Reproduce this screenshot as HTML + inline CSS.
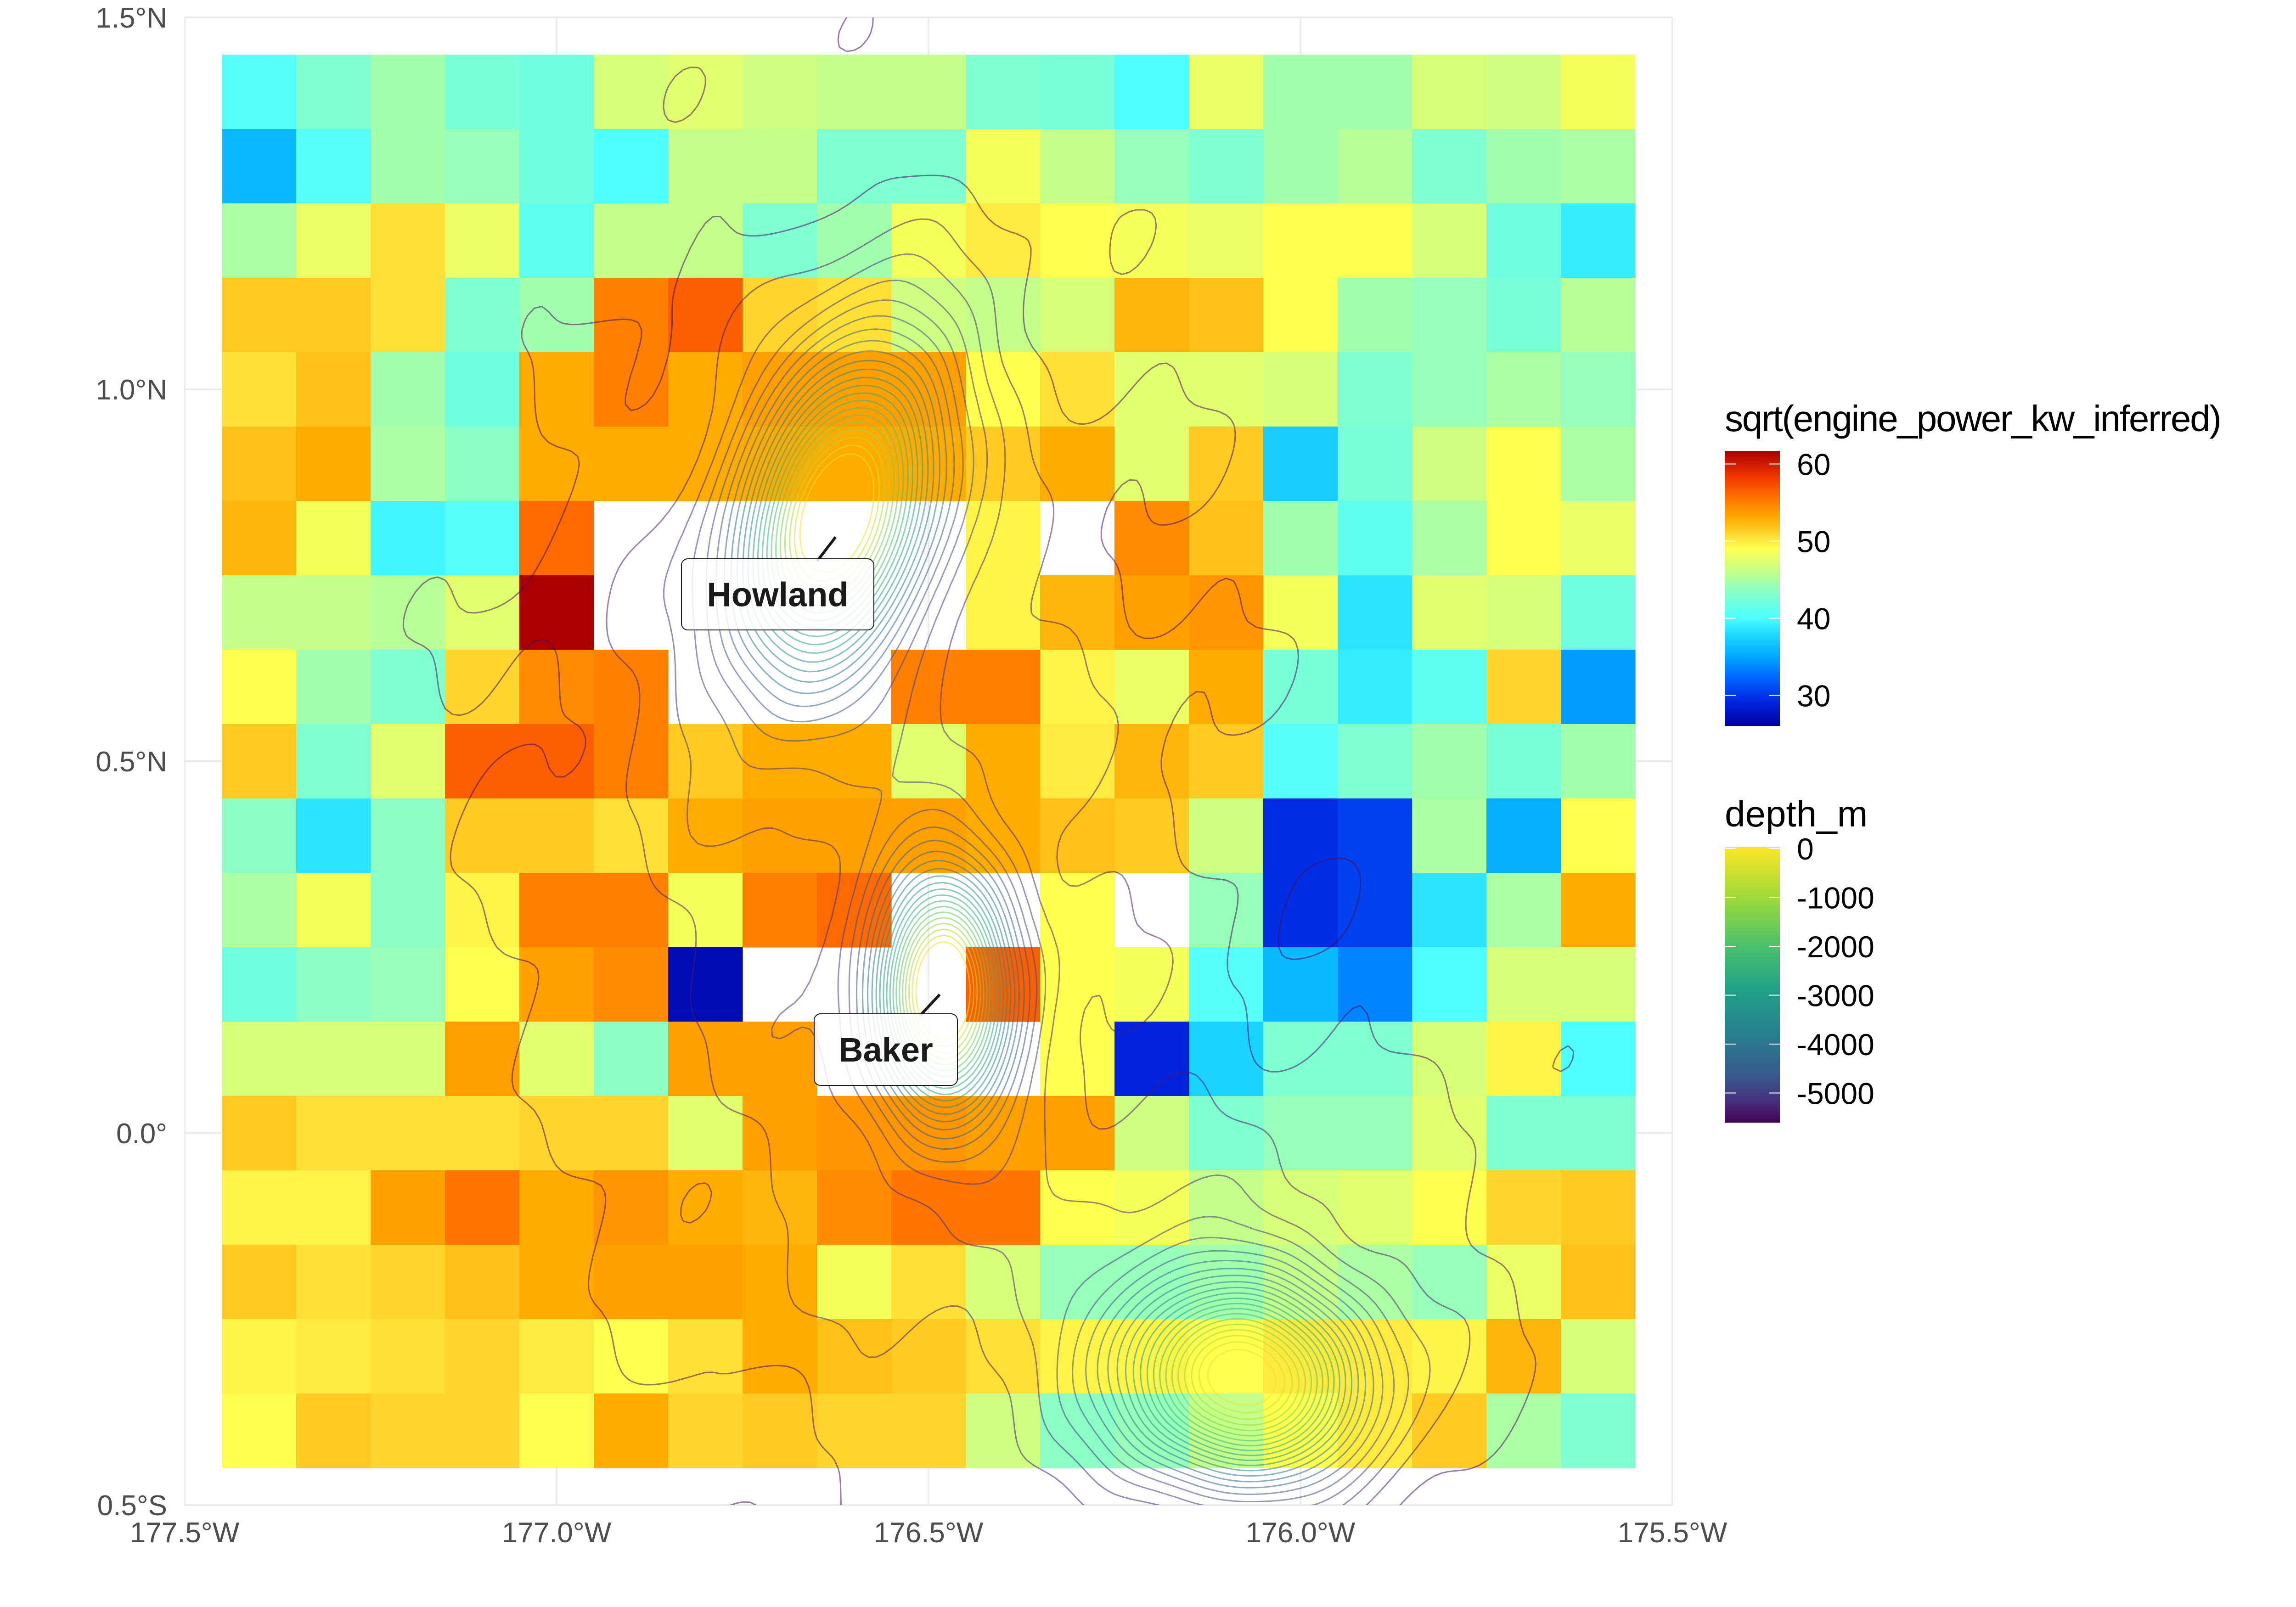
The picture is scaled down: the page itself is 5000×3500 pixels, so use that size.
<!DOCTYPE html>
<html><head><meta charset="utf-8"><style>
html,body{margin:0;padding:0;background:#fff;}
svg{display:block;font-family:"Liberation Sans",Arial,sans-serif;}
</style></head><body>
<svg id="chart" width="5000" height="3500" viewBox="0 0 5000 3500" xmlns="http://www.w3.org/2000/svg">
<defs>
<clipPath id="panelClip"><rect x="402" y="38" width="3240" height="3240"/></clipPath>
<linearGradient id="powerGrad" x1="0" y1="0" x2="0" y2="1"></linearGradient>
<linearGradient id="depthGrad" x1="0" y1="0" x2="0" y2="1">
<stop offset="0" stop-color="#fde725"/><stop offset="0.18" stop-color="#a0da39"/><stop offset="0.36" stop-color="#4ac16d"/><stop offset="0.52" stop-color="#1fa187"/><stop offset="0.68" stop-color="#277f8e"/><stop offset="0.82" stop-color="#365c8d"/><stop offset="0.92" stop-color="#46327e"/><stop offset="1" stop-color="#440154"/>
</linearGradient>
</defs>
<g id="grid"></g>
<g id="cells"></g>
<g id="contours" clip-path="url(#panelClip)"></g>
<g id="labels"></g>
<g id="axes"></g>
<g id="legend"></g>
</svg>
<script>
const lons = [-177.4,-177.3,-177.2,-177.1,-177.0,-176.9,-176.8,-176.7,-176.6,-176.5,-176.4,-176.3,-176.2,-176.1,-176.0,-175.9,-175.8,-175.7,-175.6];
const lats = [1.4,1.3,1.2,1.1,1.0,0.9,0.8,0.7,0.6,0.5,0.4,0.3,0.2,0.1,0.0,-0.1,-0.2,-0.3,-0.4];
const N = null;
const powerRows = [
[40.5,43,44.5,42.5,42,47,47.5,46.5,46,46,43,42.5,40,48,44.5,44.5,47,46.5,48.5],
[36,40.5,44.5,44,42,40,46,46,43,43,48.5,46,44,43,44.5,45.5,43,44.5,45],
[45,48,50.5,48,41,46,46,43,44.5,48.5,50,49,48.5,48,49,49,47,42,39],
[51.5,51.5,50.5,43,44.5,55,56.5,51,50.5,46.5,46,47,52.5,52,49,44.5,44,42.5,45.5],
[50.5,52,44.5,42,53,55,53,53.5,53.5,53.5,49,50.5,47.5,47.5,47,43,44,45,44],
[52,53,45,43.5,53,53,53,53,53,53,51.5,53,47.5,51.5,37,42.5,46.5,49,45],
[52.5,48.5,39.5,40.5,56,N,N,N,N,N,49.5,N,54.5,52,44.5,41,45,49,48],
[46,46,45.5,47.5,62,N,N,N,N,N,49.5,52.5,53.5,54,48.5,38.5,47.5,47,42],
[49,44.5,43,51,54.5,55,N,N,N,55,55,49.5,48,53,42.5,39,41,51,34.5],
[51.5,43,47.5,56.5,56.5,55,51.5,53,53,47.5,53,50,52.5,51.5,40.5,43,44.5,42.5,44.5],
[43.5,38.5,43.5,51.5,51.5,50.5,53,53.5,53.5,53.5,53,52,51.5,46.5,29.5,30.5,45,35.5,49],
[45,48.5,43.5,49.5,55,55,48.5,55,56,N,N,49,N,44,29.5,30.5,38.5,45,53],
[42,43.5,44,49,53.5,54.5,27,N,N,N,56.5,49,48.5,40.5,36,33.5,40,47,47],
[47,47,47,53.5,47.5,43.5,53.5,53.5,N,N,N,49,29,37.5,43,43,47,49.5,40],
[51.5,50.5,50.5,50.5,51,51,47.5,53.5,54,54,53.5,53.5,46.5,43,44,44,47.5,43,43],
[49.5,49.5,53.5,55.5,53,54,53,52.5,54.5,55.5,55.5,49,48.5,46,47,47.5,49,51,51.5],
[51.5,50.5,51,52,53,53.5,53.5,53,48.5,50.5,47,44,44,44.5,46,45,44,48,52],
[49.5,50,50.5,51,50,49,50.5,53,52,51.5,50.5,49.5,49.5,49,50,50,49.5,52.5,47],
[49,51.5,51,51,49,53,51,51.5,51,51,46.5,43.5,44,46,49,50,51.5,45,43]
];
const xTicks = [-177.5,-177.0,-176.5,-176.0,-175.5];
const xTickLabels = ["177.5°W","177.0°W","176.5°W","176.0°W","175.5°W"];
const yTicks = [1.5,1.0,0.5,0.0,-0.5];
const yTickLabels = ["1.5°N","1.0°N","0.5°N","0.0°","0.5°S"];
const powerLegendTicks = [60,50,40,30];
const depthLegendTicks = [0,-1000,-2000,-3000,-4000,-5000];
const islandNames = ["Howland","Baker"];
const islandLon = [-176.62,-176.48];
const islandLat = [0.81,0.195];

const NS="http://www.w3.org/2000/svg";
function mk(tag,attrs,parent){const e=document.createElementNS(NS,tag);for(const k in attrs)e.setAttribute(k,attrs[k]);parent.appendChild(e);return e;}
const xScale = lon => 402 + (lon + 177.5) * 1620;
const yScale = lat => 38 + (1.5 - lat) * 1620;

const stops = [[26,"#0000a0"],[29,"#0022dd"],[32,"#0060ff"],[35,"#00a8ff"],[38,"#20dcff"],[40,"#4dffff"],[43,"#80ffd0"],[46,"#c4ff8c"],[49,"#ffff50"],[51,"#ffd52e"],[53,"#ffab00"],[56,"#ff6a00"],[58.5,"#ee3300"],[61.7,"#aa0000"]];
function hex(c){return [parseInt(c.slice(1,3),16),parseInt(c.slice(3,5),16),parseInt(c.slice(5,7),16)];}
function colorFor(v){
  if(v<=stops[0][0])return stops[0][1];
  for(let i=1;i<stops.length;i++){if(v<=stops[i][0]){const a=hex(stops[i-1][1]),b=hex(stops[i][1]);const t=(v-stops[i-1][0])/(stops[i][0]-stops[i-1][0]);return "rgb("+a.map((x,j)=>Math.round(x+(b[j]-x)*t)).join(",")+")";}}
  return stops[stops.length-1][1];
}
const pg=document.getElementById('powerGrad');
for(let i=stops.length-1;i>=0;i--){const s=stops[i];mk('stop',{offset:((61.7-s[0])/(61.7-26)).toFixed(4),'stop-color':s[1]},pg);}

const grid=document.getElementById('grid');
xTicks.forEach(t=>{const l=mk('line',{x1:xScale(t),x2:xScale(t),y1:38,y2:3278,stroke:'#ebebeb','stroke-width':4},grid);

});
yTicks.forEach(t=>{const l=mk('line',{x1:402,x2:3642,y1:yScale(t),y2:yScale(t),stroke:'#ebebeb','stroke-width':4},grid);

});

const cells=document.getElementById('cells');
lats.forEach((lat,r)=>lons.forEach((lon,c)=>{
  const v=powerRows[r][c]; if(v===null)return;
  const x0=xScale(lon-0.05),x1=xScale(lon+0.05),y0=yScale(lat+0.05),y1=yScale(lat-0.05);
  const rc=mk('rect',{x:x0,y:y0,width:x1-x0+0.6,height:y1-y0+0.6,fill:colorFor(v)},cells);
  
  
}));

function depth(lon,lat){
  let d=-5600;
  const g=(x0,y0,sx,sy,h,rot)=>{let dx=lon-x0,dy=lat-y0;if(rot){const c=Math.cos(rot),s=Math.sin(rot);const nx=dx*c-dy*s,ny=dx*s+dy*c;dx=nx;dy=ny;}return h*Math.exp(-(dx*dx/(2*sx*sx)+dy*dy/(2*sy*sy)));};
  d+=g(-176.62,0.84,0.08,0.15,5700,0.3);
  d+=g(-176.48,0.19,0.06,0.11,5700,0);
  d+=g(-176.08,-0.33,0.11,0.09,5400,0.2);
  d+=g(-176.6,0.5,0.3,0.45,700,0);
  d+=g(-176.2,-0.2,0.35,0.25,500,0);
  d+=g(-177.39,1.3,0.03,0.06,-400,0);
  d+=g(-175.6,-0.1,0.03,0.05,-400,0);
  d+=70*Math.sin(lon*23+lat*7)+60*Math.cos(lat*19-lon*5)+30*Math.sin(lon*41-lat*31);
  return d;
}
const viridis=["#440154","#482878","#3e4a89","#31688e","#26828e","#1f9e89","#35b779","#6ece58","#b5de2b","#fde725"];
function vir(t){t=Math.max(0,Math.min(1,t));const p=t*(viridis.length-1),i=Math.floor(p),f=p-i;const a=hex(viridis[i]),b=hex(viridis[Math.min(i+1,viridis.length-1)]);return "rgb("+a.map((x,j)=>Math.round(x+(b[j]-x)*f)).join(",")+")";}
const cont=document.getElementById('contours');
const step=0.01, lon0=-177.52, lat0=1.52, nx=206, ny=206;
const F=[];for(let j=0;j<ny;j++){F.push([]);for(let i=0;i<nx;i++)F[j].push(depth(lon0+i*step,lat0-j*step));}
for(let lev=-5400;lev<0;lev+=250){
  let dstr="";
  for(let j=0;j<ny-1;j++)for(let i=0;i<nx-1;i++){
    const a=F[j][i],b=F[j][i+1],c=F[j+1][i+1],d=F[j+1][i];
    const idx=(a>lev?8:0)|(b>lev?4:0)|(c>lev?2:0)|(d>lev?1:0);
    if(idx===0||idx===15)continue;
    const X=k=>xScale(lon0+k*step),Y=k=>yScale(lat0-k*step);
    const top=[X(i+(lev-a)/(b-a)),Y(j)],right=[X(i+1),Y(j+(lev-b)/(c-b))],bot=[X(i+(lev-d)/(c-d)),Y(j+1)],left=[X(i),Y(j+(lev-a)/(d-a))];
    const segs={1:[[left,bot]],2:[[bot,right]],3:[[left,right]],4:[[top,right]],5:[[left,top],[bot,right]],6:[[top,bot]],7:[[left,top]],8:[[left,top]],9:[[top,bot]],10:[[top,right],[left,bot]],11:[[top,right]],12:[[left,right]],13:[[bot,right]],14:[[left,bot]]}[idx];
    for(const s of segs)dstr+="M"+s[0][0].toFixed(1)+" "+s[0][1].toFixed(1)+"L"+s[1][0].toFixed(1)+" "+s[1][1].toFixed(1);
  }
  if(dstr){const p=mk('path',{d:dstr,fill:'none',stroke:vir((lev+5600)/5600),'stroke-width':3,'stroke-opacity':0.55},cont);
  
  }
}

const labels=document.getElementById('labels');
const boxes=[[1484,1217,419,155],[1773,2208,312,156]];
islandNames.forEach((nm,k)=>{
  const px=xScale(islandLon[k]),py=yScale(islandLat[k]);
  const b=boxes[k];
  const ln=mk('line',{x1:px-8,y1:py+14,x2:px-8-(k?42:40),y2:py+14+(k?45:52),stroke:'#1a1a1a','stroke-width':6},labels);
  
  
  const r=mk('rect',{x:b[0],y:b[1],width:b[2],height:b[3],rx:14,fill:'#ffffff','fill-opacity':0.85,stroke:'#1a1a1a','stroke-width':2},labels);
  
  
  const t=mk('text',{x:b[0]+b[2]/2,y:b[1]+b[3]/2+26,'text-anchor':'middle','font-size':74,'font-weight':'bold',fill:'#1a1a1a'},labels);
  t.textContent=nm;
  
  
});

const axes=document.getElementById('axes');
xTicks.forEach((t,i)=>{const e=mk('text',{x:xScale(t),y:3359,'text-anchor':'middle','font-size':62,fill:'#4d4d4d'},axes);e.textContent=xTickLabels[i];

});
yTicks.forEach((t,i)=>{const e=mk('text',{x:364,y:yScale(t)+22,'text-anchor':'end','font-size':62,fill:'#4d4d4d'},axes);e.textContent=yTickLabels[i];

});

const lg=document.getElementById('legend');
function txt(x,y,s,size,name){const e=mk('text',{x:x,y:y,'font-size':size,fill:'#000'},lg);e.textContent=s;return e;}
const pt=txt(3756,939,"sqrt(engine_power_kw_inferred)",80,'power-legend-title');
pt.setAttribute('textLength',1082);
const pbar=mk('rect',{x:3756,y:982,width:120,height:599,fill:'url(#powerGrad)'},lg);


const pY=v=>982+(61.7-v)*16.8;
powerLegendTicks.forEach(v=>{
  mk('line',{x1:3756,x2:3780,y1:pY(v),y2:pY(v),stroke:'#fff','stroke-width':2},lg);
  mk('line',{x1:3852,x2:3876,y1:pY(v),y2:pY(v),stroke:'#fff','stroke-width':2},lg);
  txt(3913,pY(v)+24,String(v),66,'power-legend-label');
});
txt(3756,1800,"depth_m",80,'depth-legend-title');
const dbar=mk('rect',{x:3756,y:1845,width:120,height:600,fill:'url(#depthGrad)'},lg);


const dY=v=>1845+(28-v)*0.1065;
depthLegendTicks.forEach(v=>{
  mk('line',{x1:3756,x2:3780,y1:dY(v),y2:dY(v),stroke:'#fff','stroke-width':2},lg);
  mk('line',{x1:3852,x2:3876,y1:dY(v),y2:dY(v),stroke:'#fff','stroke-width':2},lg);
  txt(3913,dY(v)+24,String(v),66,'depth-legend-label');
});
</script>
</body></html>
